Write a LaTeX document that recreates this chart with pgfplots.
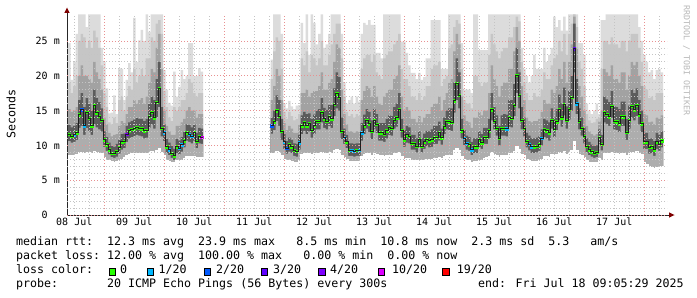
\documentclass[border=0pt]{standalone}
\usepackage{fontspec}
\setmainfont{DejaVu Sans Mono}
\usepackage{pgfplots}
\usepackage{pgfplotstable}
\pgfplotsset{compat=1.18}
\definecolor{lc0}{HTML}{26FF00}
\definecolor{lc1}{HTML}{00B8FF}
\definecolor{lc2}{HTML}{0059FF}
\definecolor{lc3}{HTML}{5E00FF}
\definecolor{lc4}{HTML}{7E00FF}
\definecolor{lc10}{HTML}{DD00FF}
\definecolor{lc19}{HTML}{FF0000}
\definecolor{sk1}{HTML}{DCDCDC}
\definecolor{sk2}{HTML}{C6C6C6}
\definecolor{sk3}{HTML}{A2A2A2}
\definecolor{sk4}{HTML}{5C5C5C}
\definecolor{sk5}{HTML}{ADADAD}
\definecolor{mgrid}{HTML}{E89090}
\definecolor{ngrid}{HTML}{C4C4C4}
\definecolor{arrowc}{HTML}{7F0000}
\newcommand\legfont{\fontsize{11.63bp}{14bp}\selectfont}
\newcommand\tickfont{\fontsize{10bp}{12bp}\selectfont}

% h = hours since 08 Jul 00:00 (centre of the hourly step); columns: min, dark-low, median,
% dark-high, mid-high, light-high, max (ms), loss class (n = closing row, no mark)
\pgfplotstableread{
h mn dlo med dhi mhi lhi mx ls
10 8.6 10.6 11.6 12.9 15.2 19.0 24.7 g
11 8.5 10.4 11.3 12.6 14.8 17.5 19.4 g
12 8.5 10.5 11.5 12.8 15.0 18.5 22.0 c
13 8.7 10.8 11.8 13.2 15.5 20.0 26.0 g
14 9.0 12.5 14.4 16.5 20.0 25.0 28.8 g
15 9.0 12.8 15.1 17.5 21.5 26.0 28.8 b
16 8.9 11.5 12.8 15.5 20.0 25.5 28.8 c
17 9.0 12.5 14.8 16.8 20.0 24.0 27.0 g
18 9.0 12.0 13.9 16.0 19.5 25.0 28.8 g
19 8.9 11.5 12.8 15.0 19.0 24.0 28.8 g
20 9.1 13.0 15.7 18.0 22.0 26.5 28.8 g
21 9.0 12.6 14.7 16.8 20.5 25.5 28.8 g
22 8.9 12.3 14.2 16.2 19.5 24.0 28.8 g
23 8.8 12.0 13.6 15.3 18.0 21.5 24.0 g
24 8.2 9.8 10.8 12.0 14.0 17.5 22.0 g
25 7.9 9.2 10.1 11.2 13.0 15.5 18.2 g
26 7.8 8.7 9.4 10.4 11.8 13.3 14.6 g
27 7.7 8.3 8.9 9.9 11.3 13.0 14.7 g
28 7.6 8.2 8.9 9.8 11.5 14.0 17.2 g
29 7.7 8.4 9.2 10.2 11.6 13.2 14.5 g
30 7.9 8.8 9.7 10.8 12.8 16.5 21.1 g
31 8.0 9.4 10.5 11.6 13.5 17.0 21.0 g
32 8.2 9.6 10.6 11.7 13.2 15.0 16.5 g
33 8.5 10.5 11.6 12.8 14.5 17.0 19.4 q
34 8.7 11.0 12.1 13.3 15.5 18.5 21.8 g
35 8.8 11.2 12.3 13.5 15.5 18.0 20.5 g
36 8.8 11.3 12.4 13.7 16.5 21.0 28.3 g
37 8.9 11.5 12.6 13.9 16.0 19.0 22.0 g
38 8.9 11.4 12.5 13.8 16.5 20.0 25.1 g
39 8.8 11.3 12.4 13.8 16.8 21.0 26.6 g
40 8.8 11.0 12.1 13.5 16.0 20.0 25.0 g
41 8.8 11.1 12.2 13.8 17.0 22.5 28.8 g
42 9.0 12.5 14.2 16.0 19.0 22.5 26.3 g
43 9.1 13.0 14.8 17.0 21.0 25.5 28.8 g
44 9.0 12.4 14.0 16.5 20.5 25.0 28.8 g
45 9.2 14.0 16.2 19.5 24.0 27.5 28.8 g
46 9.5 15.5 18.2 22.0 26.0 28.0 28.8 g
47 9.0 11.3 12.5 15.5 21.0 26.0 28.8 g
48 8.6 10.6 11.8 13.0 15.0 17.8 20.8 c
49 7.9 8.9 9.8 10.9 12.8 15.5 18.0 g
50 7.7 8.6 9.4 10.4 12.0 14.0 16.1 c
51 7.6 8.2 8.9 9.9 11.5 13.5 15.7 g
52 7.5 7.9 8.5 9.5 11.5 15.5 20.6 g
53 7.8 8.9 9.8 10.9 12.8 15.0 17.0 g
54 7.8 8.7 9.6 10.7 12.8 15.5 18.4 c
55 7.9 9.1 10.1 11.2 13.3 16.5 20.8 c
56 8.1 9.7 10.7 11.9 13.8 16.5 19.5 g
57 8.4 10.7 11.8 13.0 15.0 17.5 20.0 g
58 8.4 10.5 11.6 12.9 15.5 19.5 24.7 c
59 8.4 10.3 11.3 12.6 15.0 19.0 24.7 c
60 8.4 10.7 11.8 13.0 15.0 17.5 19.9 g
61 8.3 9.6 10.6 11.8 14.0 17.0 20.0 g
62 8.3 10.3 11.3 12.5 14.5 17.5 21.1 g
63 8.3 10.2 11.2 12.4 14.5 17.5 20.6 m
64 8.3 10.2 11.2 12.4 14.5 17.5 20.6 n
}\segA

\pgfplotstableread{
h mn dlo med dhi mhi lhi mx ls
91 8.8 11.7 12.8 14.0 16.5 19.5 22.3 b
92 8.9 12.2 13.4 15.0 18.5 23.5 28.8 g
93 9.1 13.5 15.0 17.2 21.0 25.5 28.8 g
94 9.0 12.8 14.2 16.5 20.0 25.0 28.8 g
95 8.6 10.8 12.0 13.8 16.5 21.0 26.0 g
96 8.0 9.5 10.5 11.6 13.2 14.8 16.0 c
97 7.8 8.8 9.6 10.6 12.2 13.8 15.3 b
98 7.8 9.1 10.1 11.1 12.8 14.8 16.4 g
99 7.7 8.9 9.8 10.8 12.4 14.2 15.6 g
100 7.6 8.5 9.3 10.3 11.8 13.6 15.2 g
101 7.6 8.4 9.2 10.2 11.8 13.8 15.7 g
102 7.9 9.4 10.4 11.5 13.0 14.5 15.8 c
103 8.7 11.6 12.8 14.3 17.5 22.5 27.6 g
104 8.8 12.1 13.3 14.8 17.5 21.5 24.7 g
105 8.8 11.6 12.8 14.5 18.0 23.5 28.8 g
106 8.8 12.0 13.2 14.6 17.0 20.5 23.0 g
107 8.7 11.1 12.2 13.8 17.5 23.0 28.8 g
108 8.8 11.6 12.8 14.4 17.8 22.5 27.6 g
109 8.9 12.3 13.5 15.0 17.8 21.5 24.5 g
110 8.9 12.3 13.5 15.2 18.5 22.5 26.0 g
111 9.0 13.3 14.8 16.8 20.5 25.0 28.8 g
112 8.9 12.5 13.8 15.4 18.0 21.5 24.0 g
113 8.9 12.3 13.5 15.1 18.0 21.5 24.5 g
114 9.0 12.8 14.1 15.8 19.0 23.0 26.0 g
115 8.9 12.5 13.8 15.8 19.5 24.5 28.8 g
116 9.2 14.2 15.9 18.2 22.0 26.0 28.8 g
117 9.4 15.3 17.4 20.5 24.5 27.5 28.8 g
118 9.3 15.0 16.9 19.8 24.0 27.5 28.8 g
119 8.6 10.9 12.0 14.0 18.0 22.5 26.0 g
120 8.3 10.2 11.2 12.4 14.5 17.0 19.0 c
121 8.0 9.6 10.5 11.5 13.0 14.8 16.0 g
122 7.7 8.5 9.3 10.3 12.0 14.2 16.5 g
123 7.7 8.5 9.3 10.3 12.0 14.5 17.0 c
124 7.7 8.4 9.2 10.2 11.8 14.0 16.0 c
125 7.7 8.5 9.3 10.3 12.0 14.5 17.0 g
126 7.7 8.5 9.3 10.3 11.9 14.2 16.3 c
127 8.4 10.7 11.8 13.2 16.5 21.0 26.0 c
128 8.7 11.6 12.8 14.4 17.8 22.5 27.6 g
129 8.8 12.4 13.6 15.2 18.5 23.0 27.3 g
130 8.8 11.9 13.1 14.8 18.2 23.0 28.0 g
131 8.6 10.9 12.0 13.6 17.0 22.0 27.3 g
132 8.8 12.4 13.6 15.2 18.5 23.0 27.3 g
133 8.7 11.8 13.0 14.5 17.0 20.5 23.3 g
134 8.5 10.7 11.8 13.2 16.0 20.0 23.3 g
135 8.5 10.7 11.8 13.2 15.8 19.5 22.5 g
136 8.4 10.5 11.6 13.2 17.0 22.5 28.8 g
137 8.5 11.0 12.1 13.8 17.5 23.0 28.8 g
138 8.6 11.5 12.6 14.3 18.0 23.5 28.8 g
139 8.6 11.4 12.5 14.2 18.0 23.5 28.8 g
140 8.8 12.4 13.6 15.5 19.5 24.5 28.8 g
141 8.9 12.7 14.0 16.0 20.0 25.0 28.8 g
142 9.0 13.7 15.2 17.5 21.5 26.0 28.8 g
143 8.4 11.1 12.2 13.8 17.0 21.0 24.9 g
144 8.0 9.8 10.8 12.2 15.0 19.5 24.9 g
145 8.1 10.4 11.5 12.8 15.5 19.5 23.3 g
146 8.1 10.3 11.3 12.6 15.0 18.5 21.5 g
147 7.9 9.4 10.3 11.5 13.8 17.0 20.4 g
148 7.9 9.4 10.3 11.5 13.8 17.0 20.4 g
149 7.8 9.0 9.9 11.0 13.3 16.5 19.5 g
150 7.9 9.8 10.8 12.0 14.2 17.5 20.4 g
151 7.8 9.0 9.9 11.0 13.3 16.5 19.4 g
152 7.9 9.5 10.5 11.7 14.0 17.0 19.8 g
153 8.0 9.9 10.9 12.1 14.5 18.5 22.5 g
154 8.0 9.7 10.7 12.0 14.5 18.5 22.5 g
155 8.0 9.8 10.8 12.3 15.5 21.0 28.0 g
156 8.1 10.2 11.2 12.8 16.0 21.5 28.0 g
157 8.1 10.2 11.2 12.8 16.0 21.5 28.0 g
158 8.2 10.7 11.8 13.4 17.0 22.0 28.0 g
159 8.1 10.1 11.1 12.4 15.0 18.5 21.0 g
160 8.4 11.6 12.7 14.0 16.5 19.5 21.0 g
161 8.6 12.3 13.5 15.0 17.5 20.0 21.0 g
162 8.6 12.2 13.4 15.3 19.0 24.0 28.8 g
163 8.6 12.1 13.3 15.3 19.5 24.5 28.8 g
164 9.2 14.7 16.4 19.0 23.5 27.0 28.8 g
165 9.6 16.5 18.9 22.5 26.0 28.0 28.8 g
166 9.3 15.3 17.2 20.5 24.5 27.5 28.8 g
167 8.4 11.0 12.1 13.8 17.0 21.0 24.7 g
168 8.0 10.0 11.0 12.2 14.3 16.5 18.0 c
169 7.8 9.4 10.3 11.4 13.5 16.0 18.0 c
170 7.8 9.2 10.1 11.2 13.3 16.0 18.0 g
171 7.6 8.6 9.4 10.5 12.5 15.3 17.5 c
172 7.7 8.9 9.8 11.0 14.0 20.0 28.8 g
173 7.7 8.9 9.8 11.0 14.0 20.0 28.8 g
174 7.9 9.8 10.8 12.0 14.8 19.0 23.7 g
175 7.9 9.5 10.4 11.6 14.3 18.5 23.7 g
176 8.1 10.2 11.2 12.5 15.0 19.0 23.7 g
177 8.2 10.2 11.2 12.5 15.0 19.0 23.7 g
178 8.4 11.0 12.1 13.8 17.5 23.0 28.8 g
179 9.0 13.6 15.1 17.5 21.5 26.0 28.8 g
180 8.7 12.3 13.5 15.5 19.5 24.5 28.8 g
181 8.6 11.4 12.5 14.3 18.5 23.5 28.8 g
182 8.3 10.0 11.0 12.8 17.0 22.5 28.8 g
183 8.6 11.4 12.5 14.3 18.5 23.5 28.8 g
184 8.6 11.4 12.5 14.5 19.0 24.0 28.8 g
185 8.6 11.3 12.4 14.4 19.0 24.0 28.8 c
186 8.8 12.7 14.0 16.5 21.0 25.5 28.8 g
187 8.8 12.6 13.9 16.5 21.0 25.5 28.8 g
188 9.1 14.2 15.8 18.8 23.5 27.0 28.8 g
189 9.8 17.5 20.1 24.0 27.0 28.5 28.8 g
190 9.4 15.3 17.2 20.5 25.0 27.8 28.8 g
191 8.7 12.3 13.6 15.5 18.5 22.0 24.0 g
192 8.5 11.3 12.5 14.0 16.5 19.0 21.0 g
193 8.0 9.7 10.6 11.8 14.0 17.5 20.0 g
194 7.8 9.3 10.2 11.4 13.5 16.5 19.0 c
195 7.7 8.9 9.8 11.0 13.3 16.5 20.0 c
196 7.7 8.9 9.8 11.0 13.5 17.5 23.0 g
197 7.7 9.0 9.9 11.1 13.5 17.0 21.0 g
198 7.8 9.2 10.1 11.3 13.8 17.0 21.0 g
199 8.0 10.0 11.0 12.3 14.8 18.0 21.0 c
200 8.4 11.2 12.3 13.8 16.5 20.5 24.0 g
201 8.4 11.0 12.1 13.6 16.0 19.5 22.0 g
202 8.3 10.7 11.8 13.3 16.0 19.5 23.0 g
203 8.7 12.4 13.6 15.3 18.0 21.5 24.0 g
204 8.5 11.2 12.3 14.0 17.5 22.5 28.5 g
205 8.7 12.2 13.4 15.2 18.5 23.0 27.0 g
206 9.0 13.6 15.1 17.3 21.0 25.0 28.0 g
207 8.8 12.7 14.0 16.0 19.5 23.5 26.5 g
208 9.1 14.3 15.9 18.3 22.0 26.0 28.5 g
209 8.7 12.4 13.6 15.6 19.0 23.0 26.5 g
210 9.0 13.7 15.2 17.8 22.0 26.0 28.8 g
211 9.3 15.0 16.9 20.0 24.5 27.5 28.8 g
212 10.5 20.5 23.9 27.5 28.5 28.8 28.8 p
213 9.3 14.5 16.0 19.5 24.0 27.0 28.8 c
214 8.7 12.3 13.5 15.3 18.5 22.0 24.7 g
215 8.5 11.4 12.5 14.0 17.0 21.0 24.7 g
216 8.2 10.3 11.3 12.6 15.0 18.5 23.0 g
217 7.8 9.0 9.9 11.0 12.8 14.5 16.0 g
218 7.6 8.6 9.4 10.5 12.0 13.6 15.0 g
219 7.6 8.4 9.1 10.1 11.6 13.2 14.5 g
220 7.5 8.2 8.9 9.9 11.4 13.3 15.0 g
221 7.5 8.3 9.0 10.0 11.6 13.8 16.0 g
222 8.1 10.2 11.2 12.3 13.4 14.0 14.5 g
223 7.9 9.3 10.2 11.5 15.0 21.0 28.0 g
224 8.9 13.3 14.8 17.0 21.0 25.0 28.0 g
225 8.9 13.1 14.5 16.6 20.5 25.0 28.8 g
226 8.8 12.8 14.1 16.2 20.0 24.5 28.8 g
227 9.0 14.0 15.6 17.8 21.5 25.5 28.8 g
228 8.8 12.3 13.5 15.6 19.5 24.5 28.8 g
229 8.8 12.2 13.4 15.5 19.5 24.5 28.8 g
230 8.7 11.9 13.1 15.2 19.0 24.0 28.8 g
231 8.9 12.8 14.1 16.3 20.5 25.0 28.8 g
232 8.9 12.8 14.1 16.3 20.5 25.0 28.8 g
233 8.5 10.8 11.9 13.8 18.0 23.5 28.8 g
234 8.8 12.4 13.6 15.7 20.0 25.0 28.8 g
235 9.0 14.0 15.6 18.0 22.0 26.0 28.8 g
236 9.0 13.6 15.1 17.5 21.5 26.0 28.8 g
237 9.1 14.2 15.8 18.2 22.0 26.0 28.8 g
238 8.9 13.0 14.4 16.5 20.0 24.0 27.0 g
239 8.7 11.9 13.1 15.0 18.5 22.0 25.0 g
240 7.5 9.5 10.5 11.8 14.5 18.5 23.0 g
241 7.3 9.5 10.5 11.8 14.3 18.0 22.0 g
242 7.0 8.8 9.7 10.9 13.3 16.8 20.5 g
243 6.8 8.9 9.8 11.0 13.4 17.0 20.8 g
244 6.7 8.5 9.4 10.6 13.0 16.5 19.5 g
245 6.8 9.5 10.5 11.8 14.0 17.5 20.8 g
246 6.9 9.2 10.2 11.5 13.8 17.5 21.0 g
247 7.0 9.7 10.7 12.0 14.3 17.5 20.5 g
248 7.0 9.7 10.7 12.0 14.3 17.5 20.5 n
}\segB

\pgfplotsset{
  smoke/.style={draw=none, const plot, fill=#1},
  smokewhite/.style={draw=white, line width=1bp, const plot, fill=white},
  lossmarks/.style={on layer=axis foreground, scatter, only marks, scatter src=explicit symbolic,
    mark=square*, mark size=1.2bp, mark options={line width=0.4bp},
    scatter/classes={g={lc0}, c={lc1}, b={lc2}, p={lc3}, q={lc4}, m={lc10}, n={mark=none}}},
}

\begin{document}
\begin{tikzpicture}
\fill[white] (0bp,0bp) rectangle (697bp,297bp);
\begin{axis}[
  at={(67bp,82bp)}, anchor=south west,
  scale only axis, width=600bp, height=200.5bp,
  xmin=9.09, xmax=249.09, ymin=0, ymax=28.8,
  set layers=axis on top,
  axis line style={draw=none},
  major tick length=0pt, minor tick length=0pt,
  xtick={12,36,60,84,108,132,156,180,204,228},
  xticklabels={08 Jul,09 Jul,10 Jul,11 Jul,12 Jul,13 Jul,14 Jul,15 Jul,16 Jul,17 Jul},
  minor xtick={12,18,30,36,42,54,60,66,78,84,90,102,108,114,126,132,138,150,156,162,174,180,186,198,204,210,222,228,234,246},
  extra x ticks={24,48,72,96,120,144,168,192,216,240},
  extra x tick labels={},
  extra x tick style={grid=major},
  ytick={0,5,10,15,20,25},
  yticklabels={0\hphantom{mm},5 m,10 m,15 m,20 m,25 m},
  minor y tick num=4,
  xmajorgrids=false, xminorgrids=true, ymajorgrids=true, yminorgrids=true,
  major grid style={mgrid, dash pattern=on 1bp off 2bp, line width=0.8bp},
  minor grid style={ngrid, dash pattern=on 1bp off 2bp, line width=0.8bp},
  tick label style={font=\tickfont, inner sep=0pt},
  xticklabel style={anchor=north, yshift=-3bp},
  yticklabel style={anchor=east, xshift=-7bp},
]
% smoke, segment A (steps start half an hour before each centre)
\addplot[smoke=sk1] table[x expr=\thisrow{h}-0.5,y=mx]{\segA} \closedcycle;
\addplot[smoke=sk2] table[x expr=\thisrow{h}-0.5,y=lhi]{\segA} \closedcycle;
\addplot[smoke=sk3] table[x expr=\thisrow{h}-0.5,y=mhi]{\segA} \closedcycle;
\addplot[smoke=sk4] table[x expr=\thisrow{h}-0.5,y=dhi]{\segA} \closedcycle;
\addplot[smoke=sk5] table[x expr=\thisrow{h}-0.5,y=dlo]{\segA} \closedcycle;
\addplot[smokewhite] table[x expr=\thisrow{h}-0.5,y=mn]{\segA} \closedcycle;
% smoke, segment B
\addplot[smoke=sk1] table[x expr=\thisrow{h}-0.5,y=mx]{\segB} \closedcycle;
\addplot[smoke=sk2] table[x expr=\thisrow{h}-0.5,y=lhi]{\segB} \closedcycle;
\addplot[smoke=sk3] table[x expr=\thisrow{h}-0.5,y=mhi]{\segB} \closedcycle;
\addplot[smoke=sk4] table[x expr=\thisrow{h}-0.5,y=dhi]{\segB} \closedcycle;
\addplot[smoke=sk5] table[x expr=\thisrow{h}-0.5,y=dlo]{\segB} \closedcycle;
\addplot[smokewhite] table[x expr=\thisrow{h}-0.5,y=mn]{\segB} \closedcycle;
% median line
\addplot[on layer=axis foreground, const plot, draw=black!88, line width=0.9bp] table[x expr=\thisrow{h}-0.5,y=med]{\segA};
\addplot[on layer=axis foreground, const plot, draw=black!88, line width=0.9bp] table[x expr=\thisrow{h}-0.5,y=med]{\segB};
% loss-coloured median marks
\addplot[lossmarks] table[x=h, y=med, meta=ls]{\segA};
\addplot[lossmarks] table[x=h, y=med, meta=ls]{\segB};
\end{axis}
\begin{scope}[x=1bp,y=1bp]
% axis lines and arrows
\draw[line width=1bp, black!85] (67,82) -- (67,285);
\draw[line width=1bp, black!85] (67,82) -- (670,82);
\fill[arrowc] (64.3,284) -- (69.7,284) -- (67,289.5) -- cycle;
\fill[arrowc] (669,79.3) -- (669,84.7) -- (674.5,82) -- cycle;
% y label
\node[rotate=90, font=\legfont, inner sep=0pt] at (11,183) {Seconds};
% watermark
\node[rotate=-90, anchor=west, inner sep=0pt, text=black!28, font=\fontsize{8.3bp}{10bp}\selectfont] at (686.5,292) {RRDTOOL / TOBI OETIKER};
% legend
\node[anchor=base west, inner sep=0pt, font=\legfont] at (16,52) {median rtt:~~12.3 ms avg~~23.9 ms max~~~8.5 ms min~~10.8 ms now~~2.3 ms sd~~5.3~~~am/s};
\node[anchor=base west, inner sep=0pt, font=\legfont] at (16,37.7) {packet loss:~12.00 \% avg~~100.00 \% max~~~0.00 \% min~~0.00 \% now};
\node[anchor=base west, inner sep=0pt, font=\legfont] at (16,23.7) {loss color:};
\filldraw[fill=lc0, draw=black, line width=0.6bp] (109,22) rectangle (115.5,28.5);
\node[anchor=base west, inner sep=0pt, font=\legfont] at (120,23.7) {0};
\filldraw[fill=lc1, draw=black, line width=0.6bp] (146.8,22) rectangle (153.3,28.5);
\node[anchor=base west, inner sep=0pt, font=\legfont] at (158.5,23.7) {1/20};
\filldraw[fill=lc2, draw=black, line width=0.6bp] (203.8,22) rectangle (210.3,28.5);
\node[anchor=base west, inner sep=0pt, font=\legfont] at (215.8,23.7) {2/20};
\filldraw[fill=lc3, draw=black, line width=0.6bp] (261.2,22) rectangle (267.7,28.5);
\node[anchor=base west, inner sep=0pt, font=\legfont] at (273,23.7) {3/20};
\filldraw[fill=lc4, draw=black, line width=0.6bp] (318.4,22) rectangle (324.9,28.5);
\node[anchor=base west, inner sep=0pt, font=\legfont] at (330,23.7) {4/20};
\filldraw[fill=lc10, draw=black, line width=0.6bp] (377.8,22) rectangle (384.3,28.5);
\node[anchor=base west, inner sep=0pt, font=\legfont] at (392,23.7) {10/20};
\filldraw[fill=lc19, draw=black, line width=0.6bp] (442.4,22) rectangle (448.9,28.5);
\node[anchor=base west, inner sep=0pt, font=\legfont] at (456.7,23.7) {19/20};
\node[anchor=base west, inner sep=0pt, font=\legfont] at (16,9.3) {probe:~~~~~~~20 ICMP Echo Pings (56 Bytes) every 300s};
\node[anchor=base west, inner sep=0pt, font=\legfont] at (478,9.3) {end: Fri Jul 18 09:05:29 2025};
\pgfresetboundingbox
\path[use as bounding box] (0,0) rectangle (697,297);
\end{scope}
\end{tikzpicture}
\end{document}
